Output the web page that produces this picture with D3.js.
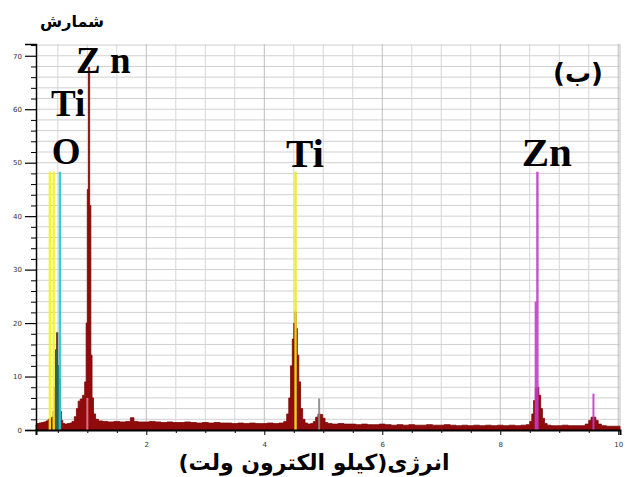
<!DOCTYPE html>
<html><head><meta charset="utf-8">
<script src="https://cdn.jsdelivr.net/npm/d3@7"></script>
<style>body{margin:0;background:#fff}</style>
</head><body>
<svg id="c" width="627" height="477"></svg>
<script>
// ---- data ----
const energy = [0.13,0.16,0.20,0.24,0.28,0.32,0.35,0.38,0.41,0.43,0.45,0.47,0.49,0.51,0.53,0.55,0.57,0.60,0.64,0.68,0.72,0.76,0.80,0.83,0.86,0.90,0.94,0.97,0.99,1.01,1.03,1.05,1.07,1.09,1.12,1.16,1.22,1.30,1.40,1.50,1.60,1.70,1.76,1.82,1.90,2.00,2.10,2.20,2.30,2.40,2.50,2.60,2.70,2.80,2.90,3.00,3.10,3.20,3.30,3.40,3.50,3.60,3.70,3.80,3.90,4.00,4.10,4.20,4.30,4.36,4.40,4.43,4.46,4.49,4.51,4.53,4.55,4.57,4.60,4.63,4.67,4.71,4.76,4.81,4.85,4.89,4.93,4.97,5.01,5.05,5.10,5.20,5.30,5.40,5.50,5.60,5.70,5.80,5.90,6.00,6.10,6.20,6.30,6.40,6.50,6.60,6.70,6.80,6.90,7.00,7.10,7.20,7.30,7.40,7.50,7.60,7.70,7.80,7.90,8.00,8.10,8.20,8.30,8.40,8.48,8.52,8.55,8.58,8.61,8.64,8.67,8.70,8.73,8.77,8.82,8.90,9.00,9.10,9.20,9.30,9.40,9.48,9.52,9.56,9.60,9.64,9.68,9.75,9.85,9.95,10.03];
const counts = [1.0,1.2,1.3,1.4,1.5,1.7,2.0,2.1,2.4,3.5,8,15,18.2,12,9.6,3.5,1.8,1.2,1.1,1.2,1.3,1.6,2.5,4.0,5.4,5.8,6.5,9,20,45,67.8,42,14,6,3,2.0,1.7,1.6,1.5,1.6,1.5,1.6,2.3,1.6,1.5,1.5,1.6,1.5,1.4,1.5,1.4,1.4,1.5,1.4,1.3,1.4,1.3,1.4,1.3,1.3,1.2,1.3,1.2,1.3,1.2,1.2,1.3,1.2,1.3,1.6,3.0,6.0,12,17,20,22.1,19,14,9,4,2.0,1.3,1.1,1.2,1.6,2.4,3.0,2.9,2.2,1.4,1.2,1.1,1.2,1.1,1.1,1.0,1.1,1.0,1.0,1.1,1.0,0.9,1.0,0.9,1.0,0.9,0.9,1.0,0.9,0.9,1.0,0.9,0.8,0.9,0.8,0.9,0.8,0.9,0.8,0.9,0.8,0.9,0.8,0.9,1.0,1.6,3.0,5.5,7.8,8.0,6.5,4.0,2.2,1.2,0.9,0.8,0.8,0.9,0.8,0.8,0.8,1.1,1.8,2.4,2.4,1.8,1.1,0.8,0.7,0.7,0.7];

// element marker lines
const markerEnergy = [0.365, 0.43, 0.535, 4.53, 8.63];
const markerHeight = [48.3, 48.3, 48.3, 48.3, 48.3];
const markerColor  = ["#f4f21c", "#f4f21c", "#2cc6d2", "#eeea1e", "#c43ccc"];
// secondary (shorter) marker lines
const extraEnergy = [1.0, 4.93, 8.60, 9.58];
const extraHeight = [6, 5.9, 24, 6.8];
const extraColor  = ["#e07a96", "#8a8a8a", "#c43ccc", "#c43ccc"];

// element labels
const labelText   = ["Z n", "Ti", "O", "Ti", "Zn"];
const labelEnergy = [1.27, 0.675, 0.64, 4.69, 8.79];
const labelCount  = [66.8, 58.8, 49.8, 49.2, 49.4];

const yTickValues = [0, 10, 20, 30, 40, 50, 60, 70];
const xTickValues = [2, 4, 6, 8, 10];
const yTitle = "شمارش";
const xTitle = "انرژی(کیلو الکترون ولت)";
const panelTag = "(ب)";

// ---- layout ----
const svg = d3.select("#c");
const mLeft = 36, mRight = 620, mTop = 44, mBottom = 430;
const x = d3.scaleLinear().domain([0.13, 10.03]).range([mLeft, mRight]);
const y = d3.scaleLinear().domain([0, 72.2]).range([mBottom, mTop]);

// gridlines
const g = svg.append("g");
g.selectAll("line.h").data(d3.range(2, 73, 2)).join("line")
  .attr("x1", mLeft).attr("x2", mRight).attr("y1", d => y(d)).attr("y2", d => y(d))
  .attr("stroke", "#d0d0d0").attr("stroke-width", 1);
g.selectAll("line.v").data(d3.range(0.5, 10.01, 0.5)).join("line")
  .attr("x1", d => x(d)).attr("x2", d => x(d)).attr("y1", mTop).attr("y2", mBottom)
  .attr("stroke", d => (Math.abs(d % 2) < 1e-6 ? "#bdbdbd" : "#d6d6d6")).attr("stroke-width", 1);
g.append("line").attr("x1", mRight).attr("x2", mRight).attr("y1", mTop).attr("y2", mBottom)
  .attr("stroke", "#c0c0c0");

// spectrum
const pts = energy.map((e, i) => [e, counts[i]]);
const area = d3.area().x(d => x(d[0])).y0(y(0)).y1(d => y(d[1])).curve(d3.curveStep);
const path = area(pts);
svg.append("defs").append("clipPath").attr("id", "spec").append("path").attr("d", path);
svg.append("path").attr("d", path).attr("fill", "#900c0c").attr("stroke", "#7a0606").attr("stroke-width", 0.8);
// O-peak overlap tint
svg.append("rect").attr("clip-path", "url(#spec)")
  .attr("x", x(0.45)).attr("width", x(0.55) - x(0.45)).attr("y", y(20)).attr("height", y(0) - y(20))
  .attr("fill", "#2e6458");

// marker lines
svg.selectAll("line.m").data(markerEnergy).join("line")
  .attr("x1", d => x(d)).attr("x2", d => x(d))
  .attr("y1", y(0)).attr("y2", (d, i) => y(markerHeight[i]))
  .attr("stroke", (d, i) => markerColor[i]).attr("stroke-width", 2.4).attr("opacity", 0.9);
svg.selectAll("line.e").data(extraEnergy).join("line")
  .attr("x1", d => x(d)).attr("x2", d => x(d))
  .attr("y1", y(0)).attr("y2", (d, i) => y(extraHeight[i]))
  .attr("stroke", (d, i) => extraColor[i]).attr("stroke-width", 2).attr("opacity", 0.9);

// axes
const yAxis = svg.append("g").attr("transform", `translate(${mLeft},0)`)
  .call(d3.axisLeft(y).tickValues(yTickValues).tickSize(11).tickFormat(d3.format("d")));
yAxis.select(".domain").attr("stroke", "#000").attr("stroke-width", 1.5);
yAxis.selectAll("text").attr("font-size", 7).attr("font-family", "DejaVu Sans").attr("fill", "#333");
yAxis.selectAll(".tick line").attr("stroke-width", 1.2);
svg.append("g").attr("transform", `translate(${mLeft},0)`)
  .call(d3.axisLeft(y).tickValues(d3.range(0, 73, 2).filter(v => v % 10)).tickSize(5).tickFormat(""))
  .call(s => s.select(".domain").remove());

const xAxis = svg.append("g").attr("transform", `translate(0,${mBottom})`)
  .call(d3.axisBottom(x).tickValues(xTickValues).tickSize(5).tickFormat(d3.format("d")));
xAxis.select(".domain").attr("stroke", "#000").attr("stroke-width", 2);
xAxis.selectAll("text").attr("font-size", 7).attr("font-family", "DejaVu Sans").attr("fill", "#333").attr("dy", "1.3em");
svg.append("g").attr("transform", `translate(0,${mBottom})`)
  .call(d3.axisBottom(x).tickValues(d3.range(0.5, 10.01, 0.5).filter(v => v % 2)).tickSize(3).tickFormat(""))
  .call(s => s.select(".domain").remove());

// element labels
svg.selectAll("text.el").data(labelText).join("text")
  .attr("x", (d, i) => x(labelEnergy[i])).attr("y", (d, i) => y(labelCount[i]))
  .attr("text-anchor", "middle").attr("font-family", "Liberation Serif").attr("font-weight", "bold")
  .attr("font-size", (d, i) => (i >= 3 ? 41 : 37)).attr("fill", "#000").text(d => d);

// titles
svg.append("text").attr("x", 72).attr("y", 27).attr("text-anchor", "middle")
  .attr("font-family", "DejaVu Sans").attr("font-weight", "bold").attr("font-size", 16).text(yTitle);
svg.append("text").attr("x", 314).attr("y", 470).attr("text-anchor", "middle").attr("direction", "rtl")
  .attr("font-family", "DejaVu Sans").attr("font-weight", "bold").attr("font-size", 22).text(xTitle);
svg.append("text").attr("x", 578).attr("y", 82).attr("text-anchor", "middle").attr("direction", "rtl")
  .attr("font-family", "DejaVu Sans").attr("font-weight", "bold").attr("font-size", 26).text(panelTag);
</script>
</body></html>
